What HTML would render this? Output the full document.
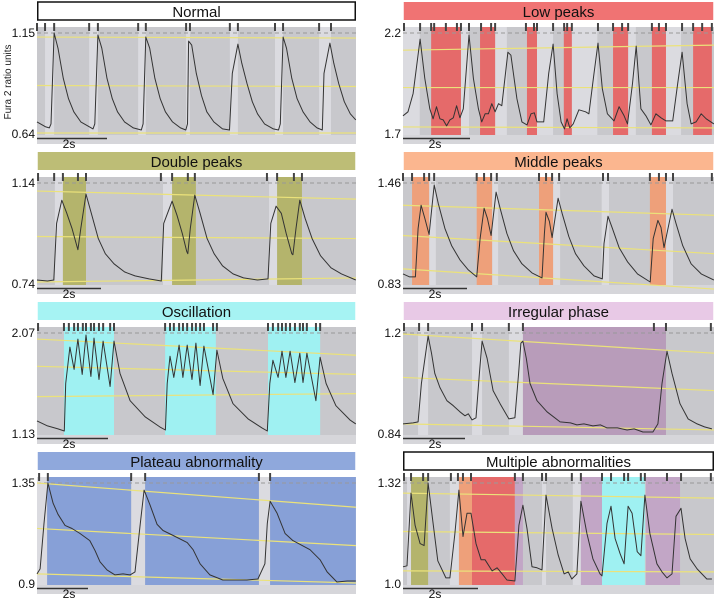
<!DOCTYPE html>
<html><head><meta charset="utf-8">
<style>
html,body{margin:0;padding:0;background:#fff;}
svg{display:block;font-family:"Liberation Sans",sans-serif;}
</style></head>
<body>
<svg id="fig" width="714" height="600" viewBox="0 0 714 600" xmlns="http://www.w3.org/2000/svg">
<text transform="translate(11,82) rotate(-90)" text-anchor="middle" font-size="10" fill="#222">Fura 2 ratio units</text>
</svg>
<script>
// ---- data (time in s, value as fraction of axis range) ----
const normalT=[0,0.25,0.35,0.4,0.49,0.6,0.75,0.9,1.05,1.25,1.45,1.6,1.65,1.74,1.85,2.0,2.15,2.3,2.5,2.75,2.98,3.03,3.11,3.22,3.37,3.52,3.67,3.87,4.1,4.25,4.3,4.33,4.42,4.55,4.7,4.85,5.05,5.3,5.5,5.58,5.74,5.85,6.0,6.15,6.3,6.5,6.75,6.9,6.95,7.03,7.13,7.28,7.43,7.6,7.8,8.0,8.15,8.2,8.37,8.48,8.62,8.78,8.95,9.11];
const normalV=[0.12,0.07,0.06,0.1,1.0,0.85,0.55,0.35,0.22,0.12,0.08,0.05,0.1,0.98,0.85,0.55,0.35,0.22,0.12,0.06,0.04,0.1,0.96,0.85,0.55,0.35,0.22,0.12,0.06,0.04,0.1,0.92,0.88,0.6,0.38,0.22,0.12,0.05,0.04,0.6,0.89,0.7,0.5,0.32,0.2,0.1,0.05,0.04,0.1,0.96,0.85,0.55,0.35,0.22,0.12,0.06,0.04,0.6,0.9,0.7,0.5,0.32,0.2,0.14];
const normalTicks=[0,0.23,0.49,1.49,1.74,2.89,3.11,4.26,4.37,5.51,5.74,6.8,7.03,8.06,8.4];
const normalBands=[[0.23,0.49,"light"],[1.49,1.74,"light"],[2.89,3.11,"light"],[4.26,4.37,"light"],[5.51,5.74,"light"],[6.8,7.03,"light"],[8.06,8.4,"light"]];
const normalGuides=[[0.96,0.95],[0.48,0.47],[0.01,0.01]];

const lowT=[0,0.15,0.3,0.51,0.65,0.8,0.9,1.0,1.1,1.2,1.3,1.4,1.5,1.6,1.7,1.8,1.97,2.1,2.25,2.35,2.45,2.55,2.65,2.75,2.85,2.95,3.13,3.22,3.4,3.55,3.7,3.82,3.92,4.0,4.2,4.35,4.48,4.6,4.72,4.82,4.9,4.98,5.08,5.25,5.45,5.55,5.7,5.82,5.95,6.1,6.3,6.45,6.6,6.7,6.85,6.96,7.1,7.25,7.4,7.55,7.7,7.85,8.05,8.2,8.33,8.48,8.6,8.75,8.9,9.05,9.28];
const lowV=[0.18,0.22,0.4,0.94,0.55,0.25,0.15,0.27,0.15,0.14,0.08,0.14,0.16,0.28,0.16,0.25,0.98,0.55,0.25,0.12,0.2,0.2,0.3,0.22,0.3,0.28,0.81,0.78,0.35,0.12,0.09,0.2,0.21,0.12,0.12,0.6,0.89,0.4,0.12,0.05,0.15,0.06,0.1,0.24,0.22,0.2,0.6,0.9,0.45,0.2,0.13,0.27,0.18,0.1,0.5,0.87,0.25,0.18,0.09,0.2,0.16,0.13,0.13,0.5,0.81,0.3,0.1,0.12,0.2,0.15,0.1];
const lowTicks=[0.03,0.51,0.84,0.93,1.28,1.61,1.73,1.97,2.33,2.63,2.75,3.67,3.91,4.0,4.48,4.81,4.9,5.04,5.82,6.27,6.54,6.72,7.43,7.64,7.85,8.33,8.66,8.93,9.22];
const lowBands=[[0,0.5,"light"],[1.73,1.97,"light"],[2.75,3.1,"light"],[4.0,4.48,"light"],[5.04,5.8,"light"],[6.72,6.95,"light"],[7.85,8.3,"light"],[0.84,1.73,"red"],[2.3,2.75,"red"],[3.7,4.0,"red"],[4.8,5.04,"red"],[6.27,6.72,"red"],[7.43,7.85,"red"],[8.66,9.22,"red"]];
const lowGuides=[[0.83,0.88],[0.46,0.46],[0.07,0.06]];

const doubleT=[0,0.3,0.48,0.56,0.71,0.85,1.0,1.12,1.17,1.25,1.4,1.55,1.75,1.95,2.2,2.5,2.8,3.2,3.55,3.62,3.86,4.0,4.15,4.28,4.31,4.38,4.51,4.66,4.86,5.06,5.3,5.6,5.9,6.3,6.6,6.68,6.83,6.98,7.12,7.28,7.31,7.4,7.51,7.66,7.86,8.1,8.4,8.7,9.11];
const doubleV=[0.04,0.03,0.04,0.6,0.83,0.7,0.55,0.4,0.34,0.55,0.89,0.7,0.45,0.3,0.2,0.12,0.08,0.05,0.03,0.6,0.82,0.68,0.5,0.32,0.3,0.55,0.88,0.7,0.45,0.3,0.18,0.1,0.06,0.04,0.05,0.6,0.77,0.7,0.5,0.3,0.29,0.55,0.83,0.65,0.45,0.28,0.16,0.1,0.04];
const doubleTicks=[0.03,0.49,0.74,1.17,1.4,3.54,3.86,4.31,4.51,6.57,6.86,7.34,7.57];
const doubleBands=[[0.51,0.74,"light"],[3.6,3.86,"light"],[6.63,6.86,"light"],[0.74,1.4,"olive"],[3.86,4.54,"olive"],[6.86,7.57,"olive"]];
const doubleGuides=[[0.92,0.84],[0.47,0.45],[0.02,0.06]];

const middleT=[0,0.2,0.37,0.45,0.54,0.65,0.78,0.93,1.05,1.25,1.45,1.7,1.95,2.2,2.3,2.42,2.52,2.63,2.78,2.9,3.1,3.3,3.55,3.85,4.15,4.22,4.27,4.37,4.45,4.63,4.75,4.95,5.15,5.4,5.7,5.95,6.0,6.12,6.25,6.45,6.7,7.0,7.38,7.47,7.61,7.7,7.79,8.03,8.15,8.35,8.6,8.9,9.28];
const middleV=[0.1,0.07,0.07,0.55,0.78,0.65,0.49,0.98,0.8,0.55,0.38,0.24,0.14,0.07,0.45,0.75,0.65,0.48,0.91,0.75,0.5,0.33,0.2,0.11,0.06,0.5,0.71,0.62,0.46,0.85,0.7,0.47,0.3,0.18,0.08,0.05,0.4,0.67,0.55,0.36,0.22,0.1,0.02,0.45,0.63,0.56,0.36,0.74,0.6,0.38,0.2,0.1,0.04];
const middleTicks=[0,0.27,0.63,0.78,0.93,2.2,2.42,2.63,2.8,4.06,4.27,4.45,4.66,5.97,6.12,7.37,7.64,7.85,8.06,9.22];
const middleBands=[[0.78,0.98,"light"],[2.66,2.84,"light"],[4.48,4.69,"light"],[5.93,6.15,"light"],[7.85,8.06,"light"],[0.27,0.78,"orange"],[2.2,2.66,"orange"],[4.06,4.48,"orange"],[7.37,7.85,"orange"]];
const middleGuides=[[0.78,0.68],[0.48,0.3],[0.15,-0.05]];

const oscT=[0,0.3,0.6,0.78,0.82,0.94,1.06,1.17,1.29,1.4,1.54,1.63,1.77,1.89,2.09,2.2,2.37,2.66,3.09,3.51,3.67,3.72,3.8,3.91,4.06,4.17,4.29,4.43,4.54,4.66,4.77,5.03,5.14,5.31,5.6,6.03,6.43,6.58,6.65,6.74,6.89,7.0,7.11,7.23,7.37,7.51,7.6,7.71,7.97,8.09,8.26,8.54,8.94,9.11];
const oscV=[0.13,0.08,0.05,0.03,0.5,0.86,0.64,0.94,0.59,0.98,0.57,0.95,0.54,0.92,0.47,0.92,0.6,0.33,0.17,0.07,0.04,0.5,0.77,0.56,0.88,0.56,0.88,0.54,0.9,0.48,0.87,0.39,0.83,0.55,0.3,0.15,0.06,0.03,0.5,0.73,0.56,0.82,0.56,0.82,0.51,0.8,0.51,0.8,0.33,0.76,0.5,0.28,0.14,0.1];
const oscTicks=[0.03,0.77,0.91,1.06,1.17,1.31,1.4,1.54,1.63,1.77,1.89,2.09,2.2,3.66,3.8,3.91,4.06,4.17,4.29,4.43,4.54,4.66,4.77,5.03,5.14,6.6,6.74,6.89,7.0,7.11,7.23,7.37,7.51,7.6,7.71,7.97,8.09];
const oscBands=[[0.77,2.2,"cyan"],[3.66,5.11,"cyan"],[6.6,8.09,"cyan"]];
const oscGuides=[[0.94,0.78],[0.67,0.59],[0.37,0.4]];

const irrT=[0,0.3,0.45,0.55,0.75,0.85,0.95,1.1,1.31,1.5,1.7,1.85,1.95,2.06,2.18,2.28,2.36,2.51,2.69,2.9,3.16,3.34,3.45,3.52,3.58,3.68,3.79,4.0,4.3,4.69,5.0,5.19,5.4,5.67,5.9,6.09,6.4,6.69,6.9,7.16,7.46,7.61,7.73,7.88,8.03,8.27,8.51,8.78,9.0,9.22];
const irrV=[0.1,0.11,0.12,0.5,0.97,0.8,0.6,0.46,0.33,0.28,0.22,0.18,0.2,0.14,0.16,0.6,0.92,0.75,0.43,0.3,0.15,0.16,0.6,0.9,0.92,0.75,0.5,0.33,0.22,0.12,0.11,0.09,0.1,0.08,0.09,0.06,0.06,0.04,0.05,0.02,0.02,0.1,0.5,0.82,0.6,0.3,0.15,0.1,0.07,0.05];
const irrTicks=[0.03,0.48,0.75,2.06,2.36,3.16,3.58,7.49,7.85,9.19];
const irrBands=[[0.45,0.75,"light"],[2.06,2.36,"light"],[3.16,3.58,"light"],[3.58,7.85,"purple"]];
const irrGuides=[[0.99,0.8],[0.56,0.43],[0.1,0.04]];

const platT=[0,0.09,0.2,0.31,0.46,0.6,0.8,1.0,1.23,1.51,1.66,1.8,2.0,2.23,2.46,2.66,2.8,2.95,3.06,3.23,3.43,3.6,3.89,4.29,4.46,4.66,4.94,5.31,6.0,6.31,6.51,6.58,6.66,6.86,7.09,7.31,7.8,8.09,8.29,8.57,8.86,9.11];
const platV=[0.1,0.15,0.6,1.0,0.8,0.69,0.58,0.55,0.5,0.43,0.33,0.22,0.14,0.09,0.1,0.09,0.12,0.6,0.93,0.78,0.59,0.53,0.48,0.41,0.34,0.2,0.09,0.04,0.04,0.05,0.2,0.6,0.82,0.7,0.5,0.43,0.34,0.24,0.12,0.02,0.03,0.03];
const platTicks=[0.06,0.31,2.69,3.09,6.34,6.66];
const platBands=[[0,0.29,"light"],[2.69,3.09,"light"],[6.34,6.66,"light"],[0.29,2.69,"blue"],[3.09,6.34,"blue"],[6.66,9.11,"blue"]];
const platGuides=[[1.0,0.76],[0.55,0.38],[0.1,0.01]];

const multiT=[0,0.12,0.24,0.36,0.51,0.63,0.75,0.9,1.04,1.28,1.4,1.55,1.67,1.79,1.91,2.03,2.18,2.33,2.45,2.66,2.81,2.96,3.1,3.34,3.46,3.58,3.7,3.85,4.0,4.15,4.27,4.45,4.63,4.81,4.93,5.04,5.19,5.31,5.49,5.67,5.88,5.94,6.09,6.21,6.33,6.48,6.6,6.72,6.84,6.99,7.1,7.22,7.37,7.58,7.73,7.88,8.03,8.15,8.3,8.42,8.57,8.78,9.07,9.22];
const multiV=[0.17,0.18,0.9,0.58,0.4,0.38,1.0,0.6,0.23,0.06,0.06,0.5,0.93,0.47,0.7,0.7,0.4,0.24,0.24,0.13,0.16,0.1,0.04,0.03,0.58,0.78,0.55,0.17,0.16,0.14,0.88,0.55,0.29,0.1,0.12,0.05,0.1,0.82,0.5,0.25,0.1,0.08,0.6,0.77,0.45,0.3,0.2,0.77,0.7,0.32,0.28,0.88,0.5,0.2,0.12,0.06,0.1,0.67,0.75,0.45,0.25,0.15,0.05,0.05];
const multiTicks=[0.03,0.24,0.6,0.75,1.43,1.64,1.79,2.03,3.34,3.58,4.15,4.27,5.04,5.31,5.94,6.21,6.6,6.72,7.1,7.22,7.88,8.3,9.19];
const multiBands=[[0.12,0.24,"light"],[1.4,1.67,"light"],[4.15,4.27,"light"],[5.07,5.31,"light"],[0.24,0.75,"olive"],[1.67,2.06,"orange"],[2.06,3.34,"red"],[3.34,3.58,"lpurple"],[5.31,5.94,"lpurple"],[5.94,7.22,"cyan"],[7.25,8.27,"lpurple"]];
const multiGuides=[[0.9,0.85],[0.52,0.49],[0.13,0.12]];

const titles=["Normal","Low peaks","Double peaks","Middle peaks","Oscillation","Irregular phase","Plateau abnormality","Multiple abnormalities"];
const yTop=["1.15","2.2","1.14","1.46","2.07","1.2","1.35","1.32"];
const yBot=["0.64","1.7","0.74","0.83","1.13","0.84","0.9","1.0"];

// ---- styling / layout ----
const titleFill=["#ffffff","#f07373","#bdbd76","#fbb68f","#a6f3f3","#e8c9e6","#8fa8dc","#ffffff"];
const bandFill={light:"#dbdbe0",red:"#e56a6a",olive:"#b4b46c",orange:"#eea07a",cyan:"#9ff1f2",purple:"#b89cba",lpurple:"#c2a6c6",blue:"#87a0d7"};
const barPx=[70,67,64,64,71,62,51,75];
const series=[[normalT,normalV,normalTicks,normalBands,normalGuides],[lowT,lowV,lowTicks,lowBands,lowGuides],[doubleT,doubleV,doubleTicks,doubleBands,doubleGuides],[middleT,middleV,middleTicks,middleBands,middleGuides],[oscT,oscV,oscTicks,oscBands,oscGuides],[irrT,irrV,irrTicks,irrBands,irrGuides],[platT,platV,platTicks,platBands,platGuides],[multiT,multiV,multiTicks,multiBands,multiGuides]];

const NS="http://www.w3.org/2000/svg";
const svg=document.getElementById('fig');
function mk(tag,attrs,parent){const e=document.createElementNS(NS,tag);for(const k in attrs)e.setAttribute(k,attrs[k]);(parent||svg).appendChild(e);return e;}

series.forEach((s,i)=>{
  const col=i%2,row=Math.floor(i/2);
  const x0=col?403:37, w=col?311:319, pps=col?33.5:35;
  const oy=row*150, top=oy+33, bot=oy+134;
  const xs=t=>x0+t*pps;
  const ys=v=>top+(1-v)*(bot-top);
  const g=mk('g',{});
  
  
  // title box
  const tb=mk('rect',{x:x0+0.75,y:oy+2,width:w-1.5,height:18,fill:titleFill[i],stroke:titleFill[i]==="#ffffff"?"#111":"none","stroke-width":1.5},g);
  
  
  const tt=mk('text',{x:x0+w/2,y:oy+17,"text-anchor":"middle","font-size":15,fill:"#111"},g);
  tt.textContent=titles[i];
  
  
  // plot background
  const bg=mk('rect',{x:x0,y:oy+27,width:w,height:110,fill:"#c8c8cc"},g);
  
  
  mk('rect',{x:x0,y:oy+135,width:w,height:9,fill:"#d6d6da"},g);
  // bands (light first then colored)
  s[3].forEach(b=>{
    const a=Math.max(b[0],0), e=Math.min(b[1],w/pps);
    const r=mk('rect',{x:xs(a),y:oy+27,width:Math.max(0,xs(e)-xs(a)),height:108,fill:bandFill[b[2]]},g);
    
    
  });
  // dashed top line
  mk('line',{x1:x0,x2:x0+w,y1:top,y2:top,stroke:"#999","stroke-width":1,"stroke-dasharray":"4,3"},g);
  // guide lines
  s[4].forEach(gl=>{
    const l=mk('line',{x1:x0,x2:x0+w,y1:ys(gl[0]),y2:ys(gl[1]),stroke:"#ebe27a","stroke-width":1.2},g);
    
    
  });
  // ticks
  s[2].forEach(t=>{
    const k=mk('rect',{x:xs(t)-1,y:oy+23,width:2,height:8,fill:"#444"},g);
    
    
  });
  // trace
  const d=s[0].map((t,j)=>(j?'L':'M')+xs(t).toFixed(1)+','+ys(Math.max(-0.02,Math.min(1.02,s[1][j]))).toFixed(1)).join(' ');
  const p=mk('path',{d:d,fill:"none",stroke:"#333","stroke-width":1,"stroke-linejoin":"round"},g);
  
  
  // y labels
  const lt=mk('text',{x:x0-2,y:top+4,"text-anchor":"end","font-size":12,fill:"#111"},g);
  lt.textContent=yTop[i];
  
  
  const lb=mk('text',{x:x0-2,y:bot+4,"text-anchor":"end","font-size":12,fill:"#111"},g);
  lb.textContent=yBot[i];
  
  
  // scale bar
  const sb=mk('line',{x1:x0,x2:x0+barPx[i],y1:oy+138.5,y2:oy+138.5,stroke:"#333","stroke-width":1.5},g);
  
  
  const st=mk('text',{x:x0+32,y:oy+148,"text-anchor":"middle","font-size":12,fill:"#111"},g);
  st.textContent="2s";
  
  
});
</script>
</body></html>
